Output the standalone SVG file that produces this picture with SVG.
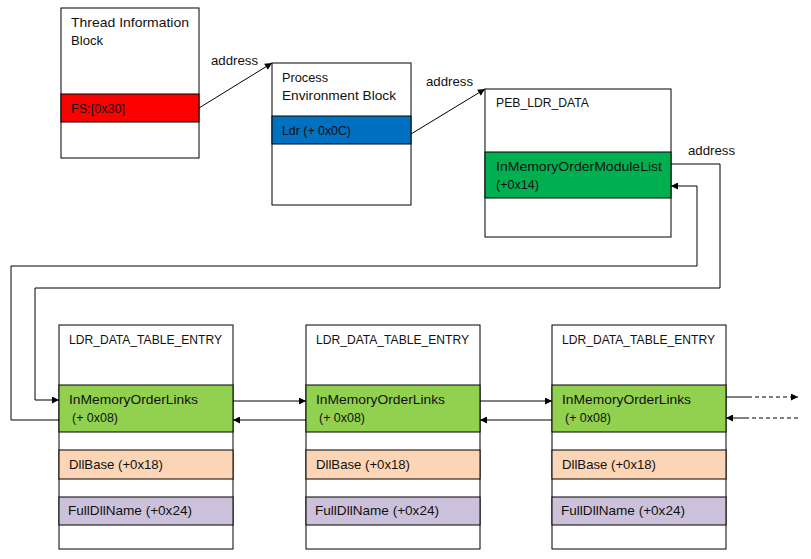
<svg xmlns="http://www.w3.org/2000/svg" width="811" height="559" viewBox="0 0 811 559">
<style>
  text { font-family: "Liberation Sans", Arial, sans-serif; font-size: 13px; fill: #111; }
  .box { fill: #fff; stroke: #000; stroke-width: 1; }
  .band { stroke: #000; stroke-width: 1; }
  .red { fill: #FF0000; }
  .blue { fill: #0070C0; }
  .green { fill: #00B050; }
  .lgreen { fill: #92D050; }
  .peach { fill: #FBD5B5; }
  .lav { fill: #CCC1DA; }
  .conn { fill: none; stroke: #000; stroke-width: 1; }
  .dash { stroke-dasharray: 4 3; }
</style>
<defs>
  <marker id="arr" viewBox="0 0 10 10" refX="10" refY="5" markerWidth="9" markerHeight="7" markerUnits="userSpaceOnUse" orient="auto">
    <path d="M0,0 L10,5 L0,10 z" fill="#000"/>
  </marker>
</defs>
<rect width="811" height="559" fill="#fff"/>

<g id="tib">
  <rect class="box" x="61" y="8" width="138" height="150"/>
  <rect class="band red" x="61" y="94" width="138" height="28"/>
  <text x="71" y="27" textLength="118" lengthAdjust="spacingAndGlyphs">Thread Information</text>
  <text x="71" y="45" textLength="32" lengthAdjust="spacingAndGlyphs">Block</text>
  <text x="71" y="113" textLength="54" lengthAdjust="spacingAndGlyphs">FS:[0x30]</text>
</g>

<g id="peb">
  <rect class="box" x="272" y="63" width="139" height="142"/>
  <rect class="band blue" x="272" y="116" width="139" height="28"/>
  <text x="282" y="82" textLength="46" lengthAdjust="spacingAndGlyphs">Process</text>
  <text x="282" y="100" textLength="114" lengthAdjust="spacingAndGlyphs">Environment Block</text>
  <text x="282" y="135" textLength="69" lengthAdjust="spacingAndGlyphs">Ldr (+ 0x0C)</text>
</g>

<g id="peb_ldr_data">
  <rect class="box" x="485" y="89" width="186" height="148"/>
  <rect class="band green" x="485" y="152" width="186" height="46"/>
  <text x="496" y="107" textLength="93" lengthAdjust="spacingAndGlyphs">PEB_LDR_DATA</text>
  <text x="496" y="171" textLength="166" lengthAdjust="spacingAndGlyphs">InMemoryOrderModuleList</text>
  <text x="496" y="189" textLength="43" lengthAdjust="spacingAndGlyphs">(+0x14)</text>
</g>

<g id="entry1">
  <rect class="box" x="59" y="325" width="174" height="224"/>
  <rect class="band lgreen" x="59" y="385" width="174" height="47"/>
  <rect class="band peach" x="59" y="450" width="174" height="29"/>
  <rect class="band lav" x="59" y="497" width="174" height="28"/>
  <text x="69" y="344" textLength="153" lengthAdjust="spacingAndGlyphs">LDR_DATA_TABLE_ENTRY</text>
  <text x="69" y="404" textLength="129" lengthAdjust="spacingAndGlyphs">InMemoryOrderLinks</text>
  <text x="72" y="422" textLength="46" lengthAdjust="spacingAndGlyphs">(+ 0x08)</text>
  <text x="69" y="469" textLength="94" lengthAdjust="spacingAndGlyphs">DllBase (+0x18)</text>
  <text x="68" y="515" textLength="124" lengthAdjust="spacingAndGlyphs">FullDllName (+0x24)</text>
</g>

<g id="entry2">
  <rect class="box" x="306" y="325" width="174" height="224"/>
  <rect class="band lgreen" x="306" y="385" width="174" height="47"/>
  <rect class="band peach" x="306" y="450" width="174" height="29"/>
  <rect class="band lav" x="306" y="497" width="174" height="28"/>
  <text x="316" y="344" textLength="153" lengthAdjust="spacingAndGlyphs">LDR_DATA_TABLE_ENTRY</text>
  <text x="316" y="404" textLength="129" lengthAdjust="spacingAndGlyphs">InMemoryOrderLinks</text>
  <text x="319" y="422" textLength="46" lengthAdjust="spacingAndGlyphs">(+ 0x08)</text>
  <text x="316" y="469" textLength="94" lengthAdjust="spacingAndGlyphs">DllBase (+0x18)</text>
  <text x="315" y="515" textLength="124" lengthAdjust="spacingAndGlyphs">FullDllName (+0x24)</text>
</g>

<g id="entry3">
  <rect class="box" x="552" y="325" width="174" height="224"/>
  <rect class="band lgreen" x="552" y="385" width="174" height="47"/>
  <rect class="band peach" x="552" y="450" width="174" height="29"/>
  <rect class="band lav" x="552" y="497" width="174" height="28"/>
  <text x="562" y="344" textLength="153" lengthAdjust="spacingAndGlyphs">LDR_DATA_TABLE_ENTRY</text>
  <text x="562" y="404" textLength="129" lengthAdjust="spacingAndGlyphs">InMemoryOrderLinks</text>
  <text x="565" y="422" textLength="46" lengthAdjust="spacingAndGlyphs">(+ 0x08)</text>
  <text x="562" y="469" textLength="94" lengthAdjust="spacingAndGlyphs">DllBase (+0x18)</text>
  <text x="561" y="515" textLength="124" lengthAdjust="spacingAndGlyphs">FullDllName (+0x24)</text>
</g>

<g id="connectors">
  <line class="conn" x1="199" y1="108" x2="272" y2="63" marker-end="url(#arr)"/>
  <text x="211" y="65" textLength="47" lengthAdjust="spacingAndGlyphs">address</text>
  <line class="conn" x1="411" y1="134" x2="485" y2="89" marker-end="url(#arr)"/>
  <text x="426" y="86" textLength="47" lengthAdjust="spacingAndGlyphs">address</text>
  <path class="conn" d="M671,164 H720 V288 H35 V400 H59" marker-end="url(#arr)"/>
  <text x="688" y="155" textLength="47" lengthAdjust="spacingAndGlyphs">address</text>
  <path class="conn" d="M59,420 H11 V266 H697 V186 H671" marker-end="url(#arr)"/>
  <line class="conn" x1="233" y1="401" x2="306" y2="401" marker-end="url(#arr)"/>
  <line class="conn" x1="306" y1="420" x2="233" y2="420" marker-end="url(#arr)"/>
  <line class="conn" x1="480" y1="401" x2="552" y2="401" marker-end="url(#arr)"/>
  <line class="conn" x1="552" y1="420" x2="480" y2="420" marker-end="url(#arr)"/>
  <line class="conn" x1="726" y1="397" x2="748" y2="397"/>
  <line class="conn dash" x1="748" y1="397" x2="798" y2="397" marker-end="url(#arr)"/>
  <line class="conn dash" x1="798" y1="418" x2="748" y2="418"/>
  <line class="conn" x1="748" y1="418" x2="726" y2="418" marker-end="url(#arr)"/>
</g>
</svg>
